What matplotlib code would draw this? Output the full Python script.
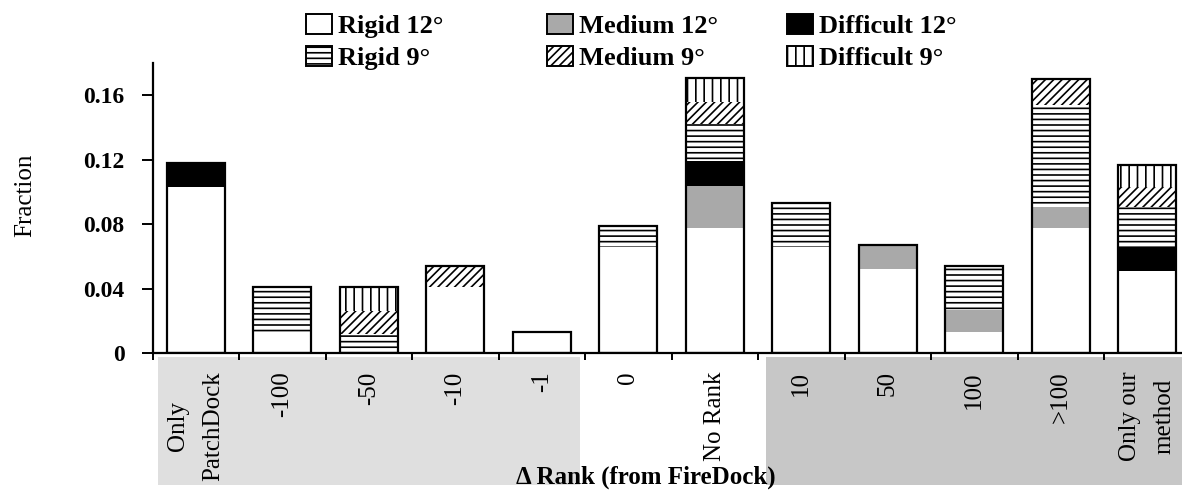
import matplotlib
matplotlib.use("Agg")
import matplotlib.pyplot as plt
import matplotlib.transforms as mtransforms
from matplotlib.patches import Patch, Rectangle
import numpy as np

# ---------------- data ----------------
categories = ["Only\nPatchDock", "-100", "-50", "-10", "-1", "0", "No Rank",
              "10", "50", "100", ">100", "Only our\nmethod"]
rigid12     = [0.103, 0.013, 0.000, 0.041, 0.013, 0.066, 0.078, 0.066, 0.052, 0.013, 0.078, 0.051]
medium12    = [0.000, 0.000, 0.000, 0.000, 0.000, 0.000, 0.026, 0.000, 0.015, 0.014, 0.013, 0.000]
difficult12 = [0.015, 0.000, 0.000, 0.000, 0.000, 0.000, 0.015, 0.000, 0.000, 0.000, 0.000, 0.015]
rigid9      = [0.000, 0.028, 0.012, 0.000, 0.000, 0.013, 0.023, 0.027, 0.000, 0.027, 0.063, 0.025]
medium9     = [0.000, 0.000, 0.014, 0.013, 0.000, 0.000, 0.014, 0.000, 0.000, 0.000, 0.016, 0.012]
difficult9  = [0.000, 0.000, 0.015, 0.000, 0.000, 0.000, 0.015, 0.000, 0.000, 0.000, 0.000, 0.014]
series_labels = ["Rigid 12°", "Medium 12°", "Difficult 12°", "Rigid 9°", "Medium 9°", "Difficult 9°"]
yticks = [0, 0.04, 0.08, 0.12, 0.16]
ytick_labels = ["0", "0.04", "0.08", "0.12", "0.16"]

# ---------------- style ----------------
SERIF = ["Liberation Serif", "DejaVu Serif"]
plt.rcParams["font.family"] = SERIF
plt.rcParams["hatch.linewidth"] = 1.2

styles = [
    dict(facecolor="white", hatch=None),      # Rigid 12
    dict(facecolor="#a9a9a9", hatch=None),    # Medium 12
    dict(facecolor="black", hatch=None),      # Difficult 12
    dict(facecolor="white", hatch="---"),     # Rigid 9
    dict(facecolor="white", hatch="////"),    # Medium 9
    dict(facecolor="white", hatch="||"),      # Difficult 9
]
series = [rigid12, medium12, difficult12, rigid9, medium9, difficult9]

W, H = 1182, 490
fig = plt.figure(figsize=(W / 100, H / 100), dpi=100)
ax_left, ax_right = 152.5, 152.5 + 12 * 86.5
ax_zero, ax_top = 353.3, 63.0
ax = fig.add_axes([ax_left / W, (H - ax_zero) / H,
                   (ax_right - ax_left) / W, (ax_zero - ax_top) / H])

x = np.arange(len(categories))
bw = 0.67
bottom = np.zeros(len(categories))
for vals, st in zip(series, styles):
    vals = np.array(vals)
    ax.bar(x, vals, bw, bottom=bottom, facecolor=st["facecolor"],
           edgecolor="black", hatch=st["hatch"], linewidth=0, zorder=2)
    bottom = bottom + vals
ax.bar(x, bottom, bw, fill=False, edgecolor="black", linewidth=1.6, zorder=3)

ax.set_xlim(-0.5, 11.5)
ax.set_ylim(0, 0.18)
for s in ["top", "right"]:
    ax.spines[s].set_visible(False)
for s in ["left", "bottom"]:
    ax.spines[s].set_linewidth(1.6)

ax.set_yticks(yticks)
ax.set_yticklabels(ytick_labels, fontsize=17, fontweight="bold")
ax.tick_params(axis="y", direction="out", length=8, width=1.4, pad=12)

ax.set_xticks(x)
ax.set_xticklabels(categories, rotation=90, fontsize=18, multialignment="center",
                   linespacing=1.75)
ax.set_xticks(np.arange(-0.5, 12, 1), minor=True)
ax.tick_params(axis="x", which="major", length=0, pad=13)
ax.tick_params(axis="x", which="minor", direction="out", length=5, width=1.4)

# shaded label bands
trans = mtransforms.blended_transform_factory(ax.transData, ax.transAxes)
y0, y1 = -0.455, -0.014
ax.add_patch(Rectangle((-0.436, y0), 4.442 + 0.436, y1 - y0, transform=trans,
                       facecolor="#dfdfdf", edgecolor="none", clip_on=False, zorder=0))
ax.add_patch(Rectangle((6.593, y0), 11.5 - 6.593, y1 - y0, transform=trans,
                       facecolor="#c7c7c7", edgecolor="none", clip_on=False, zorder=0))

fig.text(25 / W, 1 - 195 / H, "Fraction", rotation=90, ha="center", va="center", fontsize=18)
fig.text(646 / W, 1 - 477 / H, "Δ Rank (from FireDock)", ha="center", va="center",
         fontsize=18, fontweight="bold")

# legend: three columns
handles = [Patch(facecolor=st["facecolor"], edgecolor="black", hatch=st["hatch"], linewidth=1.4)
           for st in styles]
col_x = [306, 547, 787]
for c in range(3):
    idx = [c, c + 3]
    fig.legend([handles[i] for i in idx], [series_labels[i] for i in idx],
               loc="upper left", bbox_to_anchor=(col_x[c] / W, 1 - 14.5 / H),
               frameon=False, borderpad=0, borderaxespad=0,
               handlelength=0.98, handleheight=0.76, handletextpad=0.25,
               labelspacing=0.3, prop=dict(family=SERIF, size=19, weight="bold"))

fig.savefig("out.png", dpi=100)
